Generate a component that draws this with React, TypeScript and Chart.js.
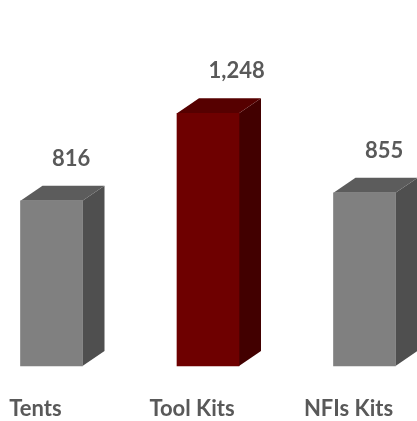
import React, { useEffect, useRef } from "react";
import { Chart, registerables } from "chart.js";

Chart.register(...registerables);

const categories = ["Tents", "Tool Kits", "NFIs Kits"];
const values = [816, 1248, 855];
const frontColors = ["#808080", "#6e0000", "#808080"];
const topColors = ["#5c5c5c", "#560000", "#5c5c5c"];
const sideColors = ["#4f4f4f", "#420000", "#4f4f4f"];

const DX = 22;
const DY = 15;
const FONT = "Lato, 'Open Sans', sans-serif";

const box3d = {
  id: "box3d",
  beforeDatasetsDraw(chart: any) {
    const ctx = chart.ctx;
    const meta = chart.getDatasetMeta(0);
    ctx.save();
    meta.data.forEach((bar: any, i: number) => {
      const { x, y, base, width } = bar.getProps(["x", "y", "base", "width"], true);
      const l = x - width / 2;
      const r = x + width / 2;
      // side face
      ctx.fillStyle = sideColors[i];
      ctx.beginPath();
      ctx.moveTo(r, y);
      ctx.lineTo(r + DX, y - DY);
      ctx.lineTo(r + DX, base - DY);
      ctx.lineTo(r, base);
      ctx.closePath();
      ctx.fill();
      // top face
      ctx.fillStyle = topColors[i];
      ctx.beginPath();
      ctx.moveTo(l, y);
      ctx.lineTo(l + DX, y - DY);
      ctx.lineTo(r + DX, y - DY);
      ctx.lineTo(r, y);
      ctx.closePath();
      ctx.fill();
    });
    ctx.restore();
  },
  afterDatasetsDraw(chart: any) {
    const ctx = chart.ctx;
    const meta = chart.getDatasetMeta(0);
    ctx.save();
    ctx.font = `bold 22px ${FONT}`;
    ctx.fillStyle = "#595959";
    ctx.textAlign = "left";
    ctx.textBaseline = "alphabetic";
    meta.data.forEach((bar: any, i: number) => {
      const { x, y, width } = bar.getProps(["x", "y", "width"], true);
      const l = x - width / 2;
      ctx.fillText(values[i].toLocaleString("en-US"), l + 31.5, y - 35);
    });
    ctx.restore();
  },
};

export default function App() {
  const ref = useRef<HTMLCanvasElement | null>(null);
  useEffect(() => {
    if (!ref.current) return;
    const chart = new Chart(ref.current, {
      type: "bar",
      data: {
        labels: categories,
        datasets: [
          {
            data: values,
            backgroundColor: frontColors,
            borderWidth: 0,
            barThickness: 62,
            clip: false,
          },
        ],
      },
      options: {
        animation: false,
        responsive: true,
        maintainAspectRatio: false,
        layout: { padding: { left: 51.5, right: 52.5, top: 0, bottom: 0 } },
        plugins: {
          legend: { display: false },
          title: { display: false },
          tooltip: { enabled: false },
        },
        scales: {
          x: {
            offset: false,
            grid: { display: false, drawTicks: false },
            border: { display: false },
            ticks: {
              color: "#595959",
              font: { family: FONT, size: 22, weight: "bold" },
              labelOffset: -16,
              padding: 30,
              maxRotation: 0,
              autoSkip: false,
            },
            afterFit: (axis: any) => {
              axis.height = 55;
              axis.paddingLeft = 0;
              axis.paddingRight = 0;
            },
          },
          y: {
            display: false,
            min: 0,
            max: 1807,
          },
        },
      },
      plugins: [box3d],
    });
    return () => chart.destroy();
  }, []);
  return (
    <div style={{ position: "fixed", left: 0, top: 0, width: 417, height: 421, background: "#fff" }}>
      <canvas ref={ref} />
    </div>
  );
}
